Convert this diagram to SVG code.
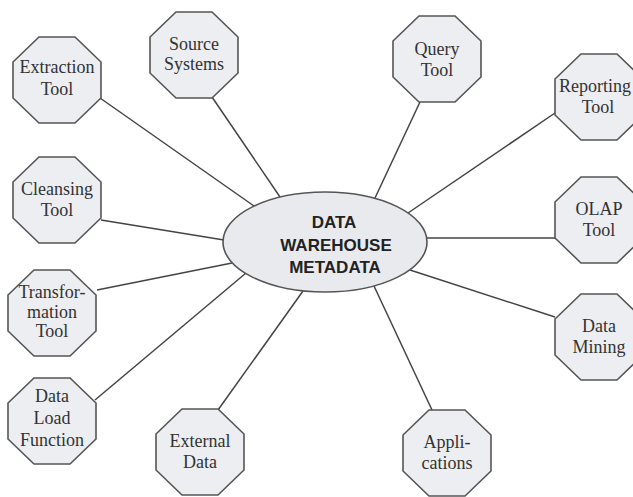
<svg xmlns="http://www.w3.org/2000/svg" xmlns:xlink="http://www.w3.org/1999/xlink" width="633" height="497" viewBox="0 0 633 497">
<style>
.oct{fill:#eceef1;stroke:#555;stroke-width:1.6}
.lbl{font-family:"Liberation Serif","Times New Roman",serif;font-size:18px;fill:#333;text-anchor:middle}
.hub{font-family:"Liberation Sans",Arial,sans-serif;font-size:17px;font-weight:bold;fill:#222;text-anchor:middle}
.con line{stroke:#444;stroke-width:1.5}
</style>
<defs>
<polygon id="o" points="-18,-43 18,-43 44,-18 44,18 18,43 -18,43 -44,18 -44,-18"/>
</defs>
<rect width="633" height="497" fill="#fff"/>
<g class="con">
<line x1="100" y1="98" x2="254" y2="206"/>
<line x1="212" y1="97" x2="280" y2="197"/>
<line x1="420" y1="102" x2="375" y2="198"/>
<line x1="555" y1="113" x2="408" y2="213"/>
<line x1="555" y1="238" x2="427" y2="238"/>
<line x1="555" y1="317" x2="410" y2="270"/>
<line x1="432" y1="410" x2="374" y2="286"/>
<line x1="218" y1="410" x2="303" y2="291"/>
<line x1="95" y1="400" x2="246" y2="273"/>
<line x1="97" y1="290" x2="232" y2="263"/>
<line x1="101" y1="220" x2="224" y2="240"/>
</g>
<g id="hub">
<ellipse cx="325" cy="242" rx="102" ry="50" fill="#e9eaed" stroke="#555" stroke-width="1.6"/>
<text class="hub" x="334" y="228">DATA</text>
<text class="hub" x="336" y="251">WAREHOUSE</text>
<text class="hub" x="335" y="273">METADATA</text>
</g>
<g id="extraction"><use xlink:href="#o" class="oct" x="57" y="80"/><text class="lbl" x="57" y="73">Extraction</text><text class="lbl" x="57" y="95">Tool</text></g>
<g id="source"><use xlink:href="#o" class="oct" x="194" y="55"/><text class="lbl" x="194" y="50">Source</text><text class="lbl" x="194" y="70">Systems</text></g>
<g id="query"><use xlink:href="#o" class="oct" x="437" y="59"/><text class="lbl" x="437" y="55">Query</text><text class="lbl" x="437" y="76">Tool</text></g>
<g id="reporting"><use xlink:href="#o" class="oct" x="599" y="97"/><text class="lbl" x="595" y="92">Reporting</text><text class="lbl" x="598" y="113">Tool</text></g>
<g id="olap"><use xlink:href="#o" class="oct" x="599" y="220"/><text class="lbl" x="599" y="215">OLAP</text><text class="lbl" x="599" y="236">Tool</text></g>
<g id="mining"><use xlink:href="#o" class="oct" x="599" y="337"/><text class="lbl" x="599" y="332">Data</text><text class="lbl" x="599" y="353">Mining</text></g>
<g id="applications"><use xlink:href="#o" class="oct" x="447" y="453"/><text class="lbl" x="447" y="448">Appli-</text><text class="lbl" x="447" y="469">cations</text></g>
<g id="external"><use xlink:href="#o" class="oct" x="200" y="452"/><text class="lbl" x="200" y="447">External</text><text class="lbl" x="200" y="468">Data</text></g>
<g id="dataload"><use xlink:href="#o" class="oct" x="52" y="421"/><text class="lbl" x="52" y="402">Data</text><text class="lbl" x="52" y="424">Load</text><text class="lbl" x="52" y="446">Function</text></g>
<g id="transformation"><use xlink:href="#o" class="oct" x="52" y="313"/><text class="lbl" x="52" y="298">Transfor-</text><text class="lbl" x="52" y="318">mation</text><text class="lbl" x="52" y="337">Tool</text></g>
<g id="cleansing"><use xlink:href="#o" class="oct" x="57" y="200"/><text class="lbl" x="57" y="195">Cleansing</text><text class="lbl" x="57" y="216">Tool</text></g>
</svg>
